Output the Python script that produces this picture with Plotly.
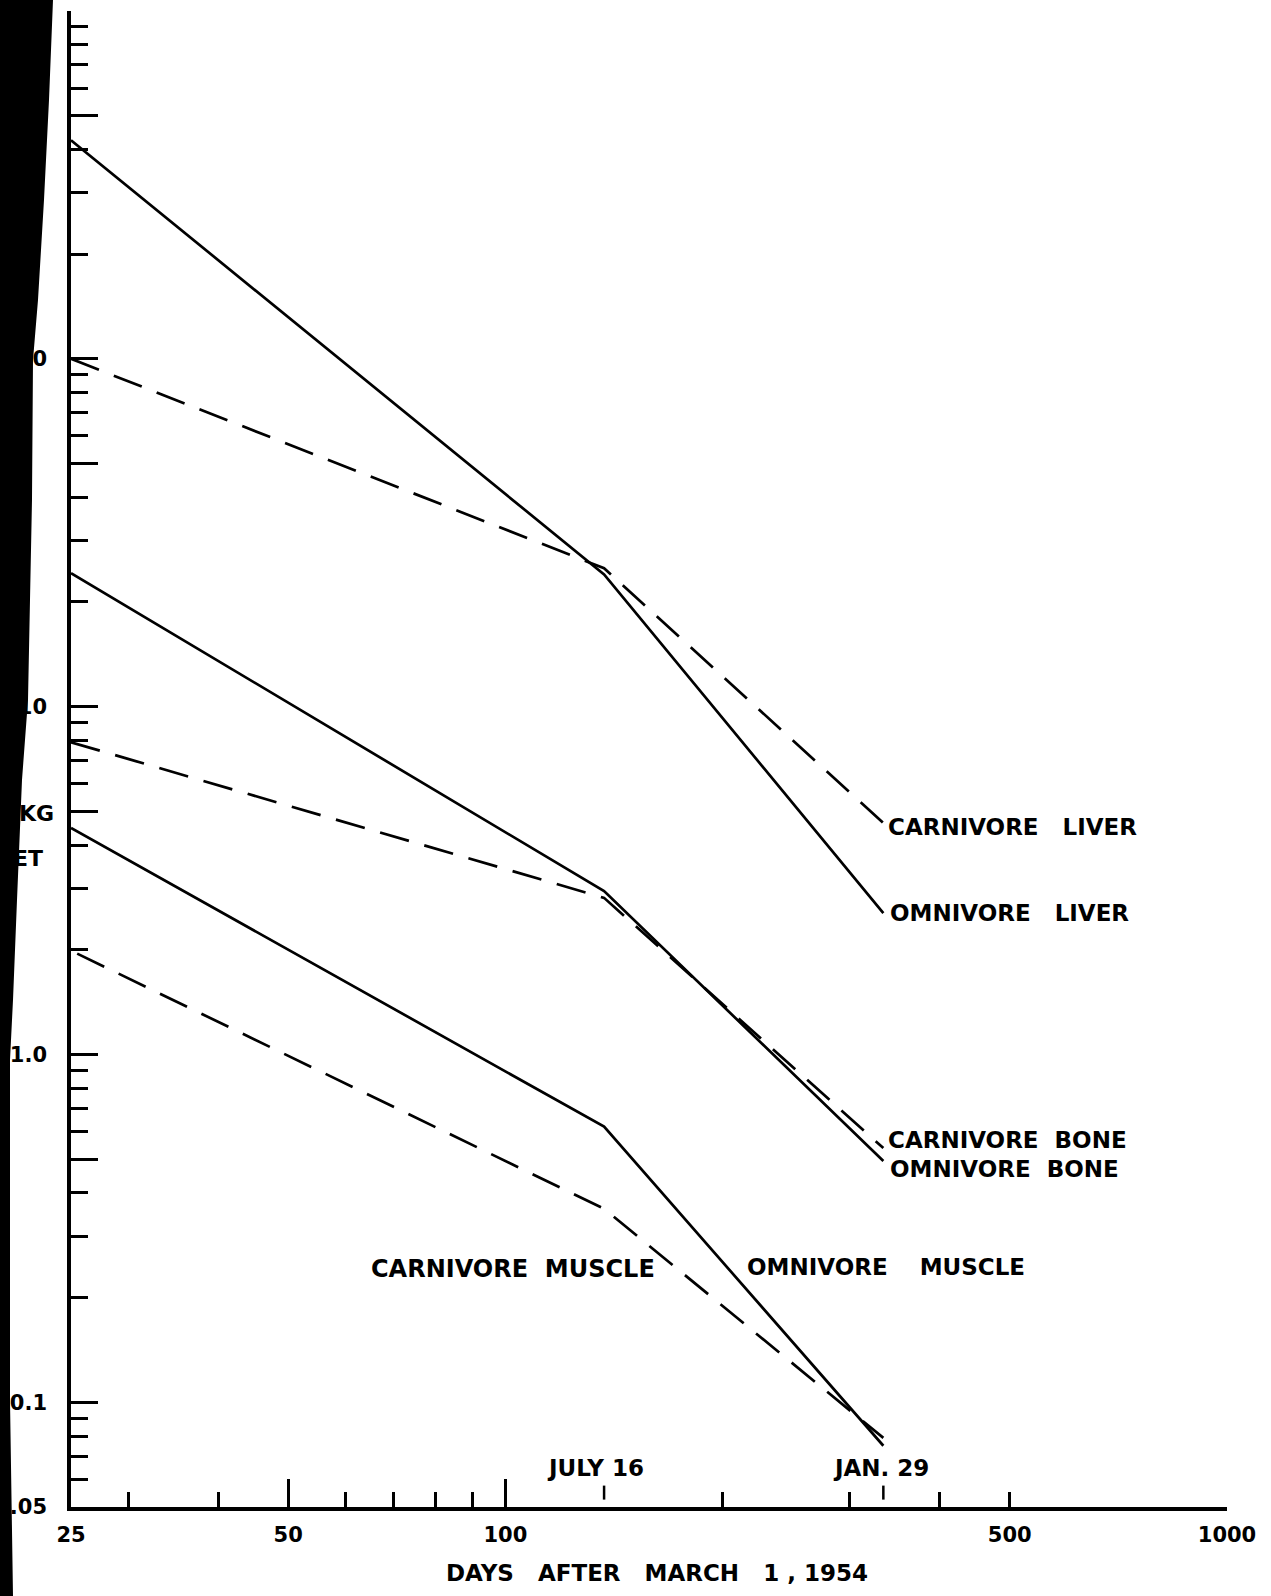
import math
import plotly.graph_objects as go

# ---------------- data ----------------
days = [25, 137, 334]          # days after March 1, 1954 (start, July 16, Jan. 29)
cm_days = [25.5, 137, 334]     # carnivore muscle curve starts slightly right of the axis

omnivore_liver = [425, 24.0, 2.55]
carnivore_liver = [100, 25.0, 4.63]
omnivore_bone = [24.2, 2.95, 0.494]
carnivore_bone = [7.9, 2.82, 0.538]
omnivore_muscle = [4.48, 0.62, 0.075]
carnivore_muscle = [1.95, 0.36, 0.079]

x_tick_vals = [25, 30, 40, 50, 60, 70, 80, 90, 100, 200, 300, 400, 500, 1000]
x_tick_text = ["25", "", "", "50", "", "", "", "", "100", "", "", "", "500", "1000"]
x_long_ticks = [50, 100, 1000]

y_major_vals = [0.05, 0.1, 0.5, 1, 5, 10, 50, 100, 500, 1000]
y_major_text = [".05", "0.1", "", "1.0", "", "10", "", "100", "", "1000"]
y_minor_vals = [0.06, 0.07, 0.08, 0.09, 0.2, 0.3, 0.4, 0.6, 0.7, 0.8, 0.9,
                2, 3, 4, 6, 7, 8, 9, 20, 30, 40, 60, 70, 80, 90,
                200, 300, 400, 600, 700, 800, 900]

date_mark_days = [137, 334]
date_mark_text = ["JULY 16", "JAN. 29"]

NB = "\u00a0"
x_title = f"DAYS{NB*3}AFTER{NB*3}MARCH{NB*3}1{NB},{NB}1954"
y_title_fragments = ["KG", "ET"]

# ---------------- styling ----------------
FONT = "DejaVu Sans"
DASH = "30px,16px"
W, H = 1271, 1596
PL, PR, PT, PB = 71, 1227, 11, 1507  # plot area in pixels
LABEL_FONT = dict(family=FONT, size=23, color="black", weight="bold")

series = [
    # name, x, y, dash, label, label xshift, label yshift
    ("Omnivore liver", days, omnivore_liver, "solid", f"OMNIVORE{NB*3}LIVER", 5, 0),
    ("Carnivore liver", days, carnivore_liver, DASH, f"CARNIVORE{NB*3}LIVER", 3, -4),
    ("Omnivore bone", days, omnivore_bone, "solid", f"OMNIVORE{NB*2}BONE", 5, -8),
    ("Carnivore bone", days, carnivore_bone, DASH, f"CARNIVORE{NB*2}BONE", 3, 8),
    ("Omnivore muscle", days, omnivore_muscle, "solid", None, 0, 0),
    ("Carnivore muscle", cm_days, carnivore_muscle, DASH, None, 0, 0),
]

fig = go.Figure()
annotations = []
for name, xs, ys, dash, label, xs_shift, ys_shift in series:
    fig.add_trace(go.Scatter(
        x=xs, y=ys, mode="lines", name=name,
        line=dict(color="black", width=2.7, dash=dash),
        hoverinfo="skip", showlegend=False,
    ))
    if label:
        annotations.append(dict(
            x=math.log10(xs[-1]), y=math.log10(ys[-1]), xref="x", yref="y",
            text=label, showarrow=False, xanchor="left", yanchor="middle",
            xshift=xs_shift, yshift=ys_shift, font=LABEL_FONT,
        ))

# free-standing muscle labels
annotations.append(dict(
    x=math.log10(162), y=math.log10(0.242), xref="x", yref="y",
    text=f"CARNIVORE{NB*2}MUSCLE", showarrow=False, xanchor="right", yanchor="middle",
    font=dict(family=FONT, size=24, color="black", weight="bold"),
))
annotations.append(dict(
    x=math.log10(215), y=math.log10(0.245), xref="x", yref="y",
    text=f"OMNIVORE{NB*4}MUSCLE", showarrow=False, xanchor="left", yanchor="middle",
    font=LABEL_FONT,
))

# date marks: short ticks above the axis (drawn on the overlay axis x2) and their labels
fig.add_trace(go.Scatter(
    x=date_mark_days, y=[0.055] * len(date_mark_days), mode="markers",
    xaxis="x2", yaxis="y",
    marker=dict(symbol="line-ns", size=10, line=dict(width=2.5, color="black")),
    hoverinfo="skip", showlegend=False,
))
for d, t, sh in zip(date_mark_days, date_mark_text, [-9, -2]):
    annotations.append(dict(
        x=math.log10(d), y=-1.19, xref="x", yref="y", text=t, showarrow=False,
        xanchor="center", yanchor="middle", xshift=sh, font=LABEL_FONT,
    ))

# x title
annotations.append(dict(
    x=(657 - PL) / (PR - PL), y=(PB - 1573) / (PB - PT), xref="paper", yref="paper",
    text=x_title, showarrow=False, xanchor="center", yanchor="middle", font=LABEL_FONT,
))
# visible fragments of the (cut off) y-axis title
for txt, right_px, cy_px in zip(y_title_fragments, [56, 45], [813, 858]):
    annotations.append(dict(
        x=(right_px - PL) / (PR - PL), y=(PB - cy_px) / (PB - PT), xref="paper", yref="paper",
        text=txt, showarrow=False, xanchor="right", yanchor="middle",
        font=dict(family=FONT, size=22, color="black", weight="bold"),
    ))

# black scanned edge on the left
scan_edge = [(53, 0), (49, 100), (44, 200), (38, 300), (33, 360), (32, 500), (30, 600),
             (28, 700), (22, 780), (17, 900), (13, 1000), (10, 1060), (10, 1200),
             (10, 1400), (13, 1596)]


def fx(px):
    return (px - PL) / (PR - PL)


def fy(py):
    return (PB - py) / (PB - PT)


pts = [(fx(-80), fy(-20))] + [(fx(a), fy(b)) for a, b in scan_edge] + [(fx(-80), fy(1620))]
path = "M " + " L ".join(f"{a:.5f},{b:.5f}" for a, b in pts) + " Z"

shapes = [dict(type="path", path=path, xref="paper", yref="paper",
               fillcolor="black", line=dict(width=0), layer="above")]

fig.update_layout(
    width=W, height=H,
    margin=dict(l=PL, r=W - PR, t=PT, b=H - PB, pad=0, autoexpand=False),
    paper_bgcolor="white", plot_bgcolor="white",
    showlegend=False,
    annotations=annotations,
    shapes=shapes,
    xaxis=dict(
        type="log", range=[math.log10(25), 3], automargin=False,
        showline=True, linecolor="black", linewidth=3.5,
        showgrid=False, zeroline=False,
        tickmode="array", tickvals=x_tick_vals, ticktext=x_tick_text,
        ticks="inside", ticklen=15, tickwidth=3, tickcolor="black",
        tickfont=dict(family=FONT, size=21, color="black", weight="bold"),
        ticklabelstandoff=6,
    ),
    xaxis2=dict(
        type="log", range=[math.log10(25), 3], overlaying="x", anchor="y", side="bottom",
        automargin=False,
        showline=False, showgrid=False, zeroline=False,
        tickmode="array", tickvals=x_long_ticks, showticklabels=False,
        ticks="inside", ticklen=28, tickwidth=3, tickcolor="black",
    ),
    yaxis=dict(
        type="log", range=[math.log10(0.05), 3], automargin=False,
        showline=True, linecolor="black", linewidth=3.5,
        showgrid=False, zeroline=False,
        tickmode="array", tickvals=y_major_vals, ticktext=y_major_text,
        ticks="inside", ticklen=27, tickwidth=3, tickcolor="black",
        tickfont=dict(family=FONT, size=21, color="black", weight="bold"),
        ticklabelstandoff=16,
        minor=dict(tickmode="array", tickvals=y_minor_vals, ticks="inside",
                   ticklen=17, tickwidth=3, tickcolor="black", showgrid=False),
    ),
)

fig.write_html(
    "out.html",
    config={"displayModeBar": False},
    post_script="document.body.style.margin='0';document.body.style.overflow='hidden';",
)
